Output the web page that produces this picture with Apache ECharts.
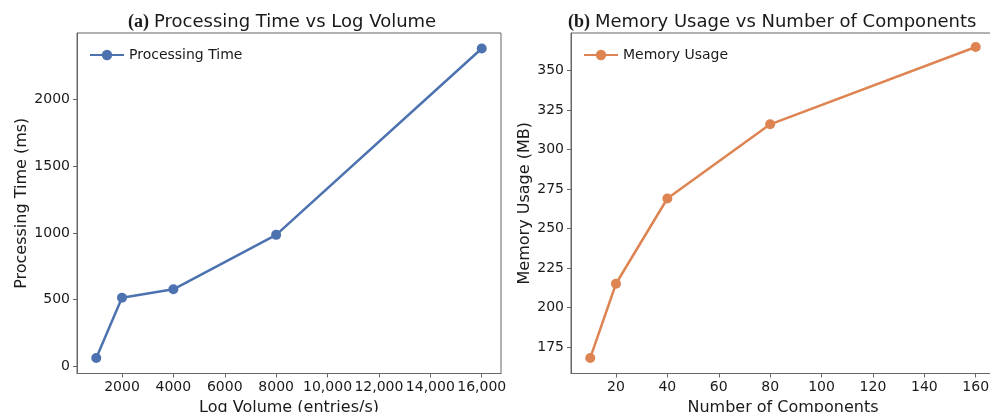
<!DOCTYPE html>
<html>
<head>
<meta charset="utf-8">
<script src="https://cdn.jsdelivr.net/npm/echarts@6/dist/echarts.min.js"></script>
<style>
  html, body { margin: 0; padding: 0; background: #fff; }
  #chart { width: 990px; height: 412px; }
</style>
</head>
<body>
<div id="chart"></div>
<script>
// 数据 (a) 处理时间
var logVolume = [1000, 2000, 4000, 8000, 16000];
var procTime = [62, 514, 577, 985, 2382];
// 数据 (b) 内存占用
var components = [10, 20, 40, 80, 160];
var memUsage = [168, 215, 269, 316, 365];
// 刻度
var ticksX1 = [2000, 4000, 6000, 8000, 10000, 12000, 14000, 16000];
var ticksY1 = [0, 500, 1000, 1500, 2000];
var ticksX2 = [20, 40, 60, 80, 100, 120, 140, 160];
var ticksY2 = [175, 200, 225, 250, 275, 300, 325, 350];

var font = 'DejaVu Sans';
var spine = '#666';
var ink = '#1a1a1a';

function pairs(xs, ys) {
  return xs.map(function (x, i) { return [x, ys[i]]; });
}

function fmtNum(v) {
  return v >= 10000 ? v.toLocaleString('en-US') : String(v);
}

function makeAxis(grid, name, min, max, ticks, gap) {
  return {
    type: 'value',
    gridIndex: grid,
    min: min,
    max: max,
    name: name,
    nameLocation: 'middle',
    nameGap: gap,
    nameTextStyle: { fontFamily: font, fontSize: 16, color: ink },
    axisLine: { show: true, onZero: false, lineStyle: { color: spine, width: 1 } },
    axisTick: { show: true, length: 4, customValues: ticks, lineStyle: { color: spine, width: 1 } },
    axisLabel: {
      customValues: ticks,
      fontFamily: font,
      fontSize: 14,
      color: ink,
      margin: 7,
      formatter: function (v) { return fmtNum(v); }
    },
    splitLine: { show: false }
  };
}

// 标题 富文本
function makeTitle(tag, text, left) {
  return {
    text: '{a|' + tag + '} {t|' + text + '}',
    left: left,
    top: 8,
    textStyle: {
      fontWeight: 'normal',
      rich: {
        a: { fontFamily: 'Liberation Serif', fontWeight: 'bold', fontSize: 18, color: ink },
        t: { fontFamily: font, fontWeight: 'normal', fontSize: 18, color: ink }
      }
    }
  };
}

var chart = echarts.init(document.getElementById('chart'), null, { renderer: 'canvas' });

var option = {
  animation: false,
  backgroundColor: '#fff',
  title: [
    makeTitle('(a)', 'Processing Time vs Log Volume', 123),
    makeTitle('(b)', 'Memory Usage vs Number of Components', 563)
  ],
  legend: [
    {
      data: ['Processing Time'],
      left: 84,
      top: 43,
      itemWidth: 34,
      itemHeight: 13,
      textStyle: { fontFamily: font, fontSize: 14, color: ink }
    },
    {
      data: ['Memory Usage'],
      left: 578,
      top: 43,
      itemWidth: 34,
      itemHeight: 13,
      textStyle: { fontFamily: font, fontSize: 14, color: ink }
    }
  ],
  grid: [
    { left: 77, top: 33, width: 424, height: 340.5, show: true, borderColor: spine, borderWidth: 1, outerBoundsMode: 'none', containLabel: false },
    { left: 571, top: 33, width: 424, height: 340.5, show: true, borderColor: spine, borderWidth: 1, outerBoundsMode: 'none', containLabel: false }
  ],
  xAxis: [
    makeAxis(0, 'Log Volume (entries/s)', 250, 16750, ticksX1, 21),
    makeAxis(1, 'Number of Components', 2.5, 167.5, ticksX2, 21)
  ],
  yAxis: [
    makeAxis(0, 'Processing Time (ms)', -54, 2498, ticksY1, 47),
    makeAxis(1, 'Memory Usage (MB)', 158.15, 373.85, ticksY2, 38)
  ],
  series: [
    {
      name: 'Processing Time',
      type: 'line',
      xAxisIndex: 0,
      yAxisIndex: 0,
      data: pairs(logVolume, procTime),
      symbol: 'circle',
      symbolSize: 10,
      itemStyle: { color: '#4C72B0' },
      lineStyle: { color: '#4C72B0', width: 2.5 }
    },
    {
      name: 'Memory Usage',
      type: 'line',
      xAxisIndex: 1,
      yAxisIndex: 1,
      data: pairs(components, memUsage),
      symbol: 'circle',
      symbolSize: 10,
      itemStyle: { color: '#DD8452' },
      lineStyle: { color: '#DD8452', width: 2.5 }
    }
  ]
};

chart.setOption(option);
</script>
</body>
</html>
